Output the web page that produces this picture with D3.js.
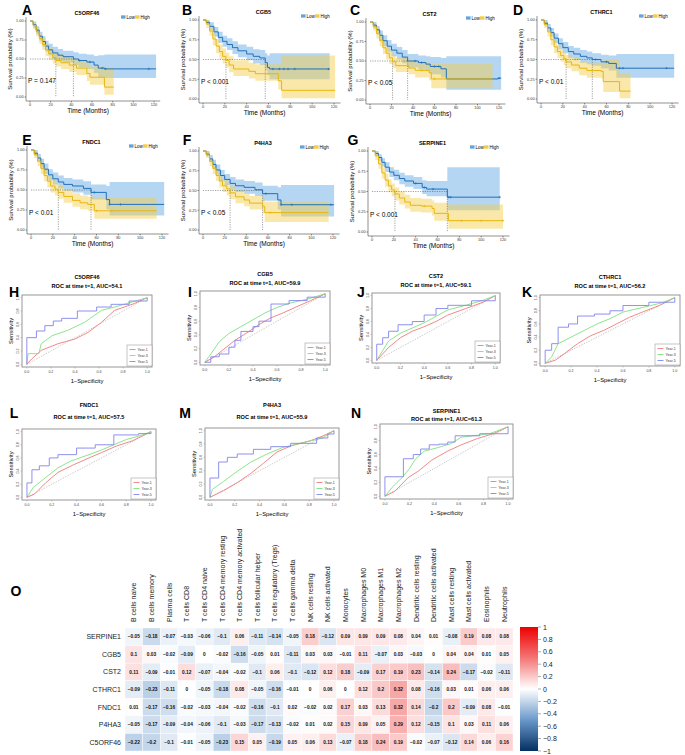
<!DOCTYPE html>
<html>
<head>
<meta charset="utf-8">
<script src="https://d3js.org/d3.v7.min.js"></script>
<style>
  body { margin: 0; background: #fff; }
  svg { display: block; font-family: "Liberation Sans", Arial, sans-serif; }
</style>
</head>
<body>
<svg id="fig" width="685" height="755"></svg>
<script>
// ---------- Kaplan-Meier data: [time, surv, lower, upper] ----------
const kmGenes = ["C5ORF46", "CGB5", "CST2", "CTHRC1", "FNDC1", "P4HA3", "SERPINE1"];
const kmPvals = ["P = 0.147", "P < 0.001", "P < 0.05", "P < 0.01", "P < 0.01", "P < 0.05", "P < 0.001"];
const kmTicksX = [0, 20, 40, 60, 80, 100, 120];
const kmTicksY = [0, 0.25, 0.5, 0.75, 1];

const lowC5ORF46 = [[0,1,1,1],[3,0.95,0.91,0.99],[6,0.88,0.83,0.93],[9,0.8,0.74,0.86],[12,0.73,0.66,0.8],[15,0.67,0.6,0.74],[18,0.62,0.55,0.7],[22,0.58,0.5,0.66],[27,0.55,0.47,0.63],[32,0.53,0.45,0.61],[42,0.5,0.42,0.59],[47,0.48,0.39,0.57],[55,0.46,0.37,0.56],[62,0.42,0.32,0.54],[66,0.38,0.26,0.55],[72,0.37,0.25,0.56],[122,0.37,0.25,0.56]];
const highC5ORF46 = [[0,1,1,1],[3,0.94,0.89,0.99],[6,0.86,0.8,0.92],[9,0.77,0.7,0.84],[12,0.69,0.62,0.77],[15,0.62,0.54,0.7],[18,0.57,0.49,0.65],[22,0.52,0.44,0.61],[25,0.48,0.4,0.57],[30,0.45,0.37,0.54],[38,0.42,0.33,0.51],[45,0.38,0.29,0.48],[55,0.31,0.21,0.43],[58,0.26,0.16,0.4],[72,0.13,0.03,0.38],[81,0.13,0.03,0.38]];
const lowCGB5 = [[0,1,1,1],[3,0.97,0.94,1],[6,0.92,0.87,0.97],[10,0.85,0.79,0.91],[14,0.78,0.71,0.85],[18,0.73,0.66,0.8],[22,0.69,0.62,0.77],[27,0.65,0.57,0.73],[32,0.61,0.53,0.69],[40,0.57,0.49,0.66],[46,0.54,0.45,0.63],[52,0.52,0.43,0.62],[57,0.46,0.36,0.58],[59,0.4,0.3,0.55],[61,0.38,0.25,0.58],[116,0.38,0.25,0.58]];
const highCGB5 = [[0,1,1,1],[3,0.95,0.9,1],[6,0.86,0.8,0.93],[9,0.76,0.68,0.84],[12,0.67,0.58,0.76],[15,0.6,0.51,0.69],[18,0.54,0.45,0.64],[21,0.49,0.4,0.59],[24,0.43,0.34,0.54],[28,0.38,0.29,0.49],[42,0.35,0.26,0.46],[48,0.32,0.23,0.44],[69,0.23,0.12,0.44],[72,0.11,0.01,0.55],[121,0.11,0.01,0.55]];
const lowCST2 = [[0,1,1,1],[3,0.96,0.92,1],[6,0.9,0.85,0.95],[9,0.83,0.77,0.89],[12,0.76,0.69,0.83],[16,0.69,0.62,0.77],[20,0.64,0.56,0.72],[25,0.6,0.52,0.68],[30,0.55,0.47,0.64],[35,0.5,0.42,0.59],[45,0.48,0.39,0.57],[52,0.46,0.37,0.56],[56,0.43,0.33,0.55],[66,0.4,0.29,0.54],[71,0.27,0.13,0.56],[119,0.28,0.13,0.56],[122,0.28,0.13,0.56]];
const highCST2 = [[0,1,1,1],[3,0.94,0.89,0.99],[6,0.85,0.79,0.92],[9,0.76,0.69,0.84],[12,0.67,0.59,0.75],[15,0.6,0.52,0.69],[18,0.54,0.46,0.63],[21,0.49,0.41,0.58],[24,0.44,0.36,0.54],[36,0.41,0.33,0.51],[42,0.38,0.29,0.48],[55,0.35,0.25,0.46],[57,0.27,0.15,0.46],[114,0.27,0.13,0.47]];
const lowCTHRC1 = [[0,1,1,1],[3,0.96,0.93,1],[6,0.9,0.86,0.95],[9,0.84,0.79,0.9],[12,0.77,0.71,0.83],[16,0.7,0.63,0.77],[20,0.65,0.58,0.72],[25,0.6,0.52,0.67],[30,0.57,0.49,0.65],[36,0.54,0.46,0.62],[42,0.52,0.44,0.6],[47,0.5,0.42,0.58],[55,0.47,0.39,0.56],[62,0.45,0.36,0.55],[69,0.39,0.27,0.57],[122,0.39,0.26,0.58]];
const highCTHRC1 = [[0,1,1,1],[3,0.94,0.9,0.99],[6,0.85,0.79,0.91],[9,0.75,0.68,0.82],[12,0.66,0.58,0.74],[15,0.6,0.52,0.68],[18,0.55,0.47,0.63],[21,0.51,0.43,0.59],[23,0.47,0.39,0.56],[28,0.43,0.35,0.52],[35,0.39,0.3,0.48],[42,0.36,0.27,0.46],[55,0.35,0.26,0.45],[57,0.22,0.09,0.5],[72,0.1,0.01,0.32],[82,0.1,0.01,0.32]];
const lowFNDC1 = [[0,1,1,1],[3,0.96,0.93,1],[6,0.9,0.86,0.95],[9,0.83,0.78,0.89],[12,0.76,0.7,0.83],[16,0.69,0.62,0.76],[20,0.64,0.57,0.72],[25,0.6,0.52,0.68],[30,0.57,0.49,0.65],[38,0.55,0.47,0.63],[48,0.52,0.44,0.61],[55,0.47,0.38,0.57],[69,0.38,0.26,0.55],[72,0.32,0.18,0.6],[122,0.32,0.17,0.6]];
const highFNDC1 = [[0,1,1,1],[3,0.94,0.9,0.99],[6,0.86,0.8,0.92],[9,0.77,0.7,0.84],[12,0.68,0.61,0.76],[15,0.61,0.53,0.69],[18,0.55,0.47,0.63],[22,0.51,0.43,0.59],[25,0.47,0.39,0.55],[30,0.42,0.34,0.5],[38,0.37,0.29,0.46],[45,0.34,0.26,0.43],[52,0.32,0.24,0.42],[58,0.24,0.14,0.4],[115,0.24,0.13,0.4]];
const lowP4HA3 = [[0,1,1,1],[3,0.96,0.93,1],[6,0.9,0.86,0.95],[9,0.83,0.78,0.89],[12,0.76,0.7,0.83],[16,0.69,0.62,0.76],[20,0.64,0.57,0.71],[25,0.59,0.51,0.67],[30,0.56,0.48,0.64],[38,0.54,0.46,0.62],[48,0.51,0.43,0.6],[55,0.46,0.37,0.56],[69,0.38,0.26,0.54],[72,0.32,0.17,0.57],[121,0.32,0.17,0.57]];
const highP4HA3 = [[0,1,1,1],[3,0.95,0.91,0.99],[6,0.87,0.81,0.93],[9,0.78,0.71,0.85],[12,0.69,0.62,0.77],[15,0.62,0.54,0.7],[18,0.56,0.48,0.64],[22,0.52,0.44,0.6],[25,0.47,0.39,0.55],[30,0.42,0.34,0.5],[38,0.38,0.3,0.46],[43,0.34,0.26,0.43],[55,0.3,0.21,0.4],[57,0.22,0.1,0.36],[116,0.22,0.09,0.36]];
const lowSERPINE1 = [[0,1,1,1],[3,0.97,0.94,1],[6,0.92,0.88,0.96],[9,0.86,0.81,0.91],[12,0.8,0.74,0.86],[16,0.74,0.68,0.8],[20,0.7,0.64,0.77],[25,0.66,0.59,0.73],[30,0.63,0.56,0.7],[38,0.6,0.53,0.68],[46,0.55,0.47,0.64],[50,0.53,0.44,0.63],[69,0.43,0.27,0.8],[117,0.43,0.27,0.8]];
const highSERPINE1 = [[0,1,1,1],[3,0.94,0.89,0.99],[6,0.84,0.78,0.9],[9,0.73,0.66,0.8],[12,0.64,0.56,0.72],[15,0.57,0.49,0.65],[18,0.52,0.44,0.6],[21,0.47,0.39,0.55],[25,0.42,0.34,0.5],[30,0.37,0.29,0.46],[35,0.33,0.25,0.42],[45,0.32,0.24,0.41],[55,0.29,0.2,0.39],[57,0.23,0.14,0.36],[70,0.14,0.04,0.34],[120,0.14,0.04,0.34]];

// censor marks (months) on each curve
const censLow = [[48,58,70,73,115],[64,70,74,78,84,115],[42,48,60,64,120],[50,60,72,75,115],[58,72,82],[58,72,82,118],[40,48,56,70,72,117]];
const censHigh = [[],[],[48,60],[],[60,74],[62],[48,82,100,120]];

// ---------- ROC data: [1-specificity, sensitivity] ----------
const rocAUC = ["54.1", "59.9", "59.1", "56.2", "57.5", "55.9", "61.3"];
const rocTicks = [0, 0.2, 0.4, 0.6, 0.8, 1];
const rocYears = ["Year-1", "Year-3", "Year-5"];
const rocC5ORF46 = [
  [[0,0],[0.04,0.08],[0.12,0.21],[0.26,0.31],[0.4,0.38],[0.51,0.48],[0.62,0.63],[0.73,0.81],[0.89,0.91],[1,1]],
  [[0,0],[0.01,0.16],[0.1,0.16],[0.12,0.31],[0.21,0.43],[0.34,0.51],[0.48,0.63],[0.62,0.81],[0.73,0.86],[1,1]],
  [[0,0],[0,0.4],[0.08,0.5],[0.15,0.58],[0.22,0.65],[0.29,0.69],[0.42,0.8],[0.58,0.86],[0.7,0.9],[0.85,0.95],[1,1]]];
const rocCGB5 = [
  [[0,0],[0.08,0.08],[0.15,0.18],[0.25,0.32],[0.35,0.43],[0.45,0.55],[0.55,0.65],[0.65,0.72],[0.75,0.8],[0.88,0.9],[1,1]],
  [[0,0],[0.05,0.12],[0.12,0.3],[0.2,0.42],[0.3,0.52],[0.4,0.62],[0.5,0.72],[0.6,0.8],[0.7,0.86],[0.85,0.92],[1,1]],
  [[0,0],[0.05,0.08],[0.12,0.12],[0.2,0.22],[0.25,0.32],[0.3,0.45],[0.4,0.52],[0.45,0.6],[0.55,0.85],[0.7,0.9],[0.85,0.95],[1,1]]];
const rocCST2 = [
  [[0,0],[0.05,0.1],[0.1,0.2],[0.2,0.35],[0.3,0.45],[0.4,0.52],[0.5,0.6],[0.6,0.7],[0.75,0.8],[0.9,0.9],[1,1]],
  [[0,0],[0.05,0.15],[0.1,0.3],[0.2,0.42],[0.3,0.5],[0.4,0.58],[0.5,0.68],[0.6,0.78],[0.75,0.85],[0.9,0.93],[1,1]],
  [[0,0],[0,0.25],[0.05,0.35],[0.1,0.45],[0.18,0.55],[0.3,0.6],[0.4,0.7],[0.5,0.8],[0.6,0.85],[0.8,0.92],[1,1]]];
const rocCTHRC1 = [
  [[0,0],[0.08,0.05],[0.15,0.15],[0.25,0.3],[0.35,0.42],[0.45,0.5],[0.55,0.6],[0.65,0.7],[0.75,0.78],[0.88,0.88],[1,1]],
  [[0,0],[0.05,0.1],[0.1,0.3],[0.2,0.4],[0.3,0.5],[0.4,0.6],[0.5,0.68],[0.6,0.78],[0.75,0.85],[0.9,0.92],[1,1]],
  [[0,0],[0,0.2],[0.05,0.3],[0.1,0.55],[0.18,0.6],[0.25,0.72],[0.38,0.75],[0.5,0.8],[0.6,0.88],[0.8,0.93],[1,1]]];
const rocFNDC1 = [
  [[0,0],[0.06,0.05],[0.15,0.22],[0.25,0.38],[0.38,0.5],[0.5,0.6],[0.6,0.68],[0.72,0.78],[0.85,0.86],[1,1]],
  [[0,0],[0.05,0.15],[0.15,0.3],[0.25,0.45],[0.35,0.55],[0.5,0.65],[0.6,0.72],[0.7,0.8],[0.8,0.88],[0.9,0.93],[1,1]],
  [[0,0],[0,0.22],[0.04,0.42],[0.1,0.48],[0.18,0.6],[0.25,0.65],[0.4,0.75],[0.55,0.8],[0.7,0.95],[0.9,0.97],[1,1]]];
const rocP4HA3 = [
  [[0,0],[0.11,0.1],[0.22,0.22],[0.33,0.36],[0.43,0.51],[0.54,0.68],[0.65,0.77],[0.81,0.85],[0.91,0.92],[1,1]],
  [[0,0],[0.02,0.12],[0.11,0.24],[0.22,0.39],[0.33,0.53],[0.46,0.65],[0.59,0.75],[0.75,0.82],[0.91,0.89],[1,1]],
  [[0,0],[0,0.29],[0.07,0.53],[0.14,0.6],[0.22,0.65],[0.35,0.72],[0.49,0.76],[0.65,0.81],[0.86,0.89],[0.95,0.95],[1,1]]];
const rocSERPINE1 = [
  [[0,0],[0.08,0.07],[0.19,0.27],[0.27,0.36],[0.38,0.52],[0.51,0.65],[0.62,0.74],[0.75,0.83],[0.88,0.9],[1,1]],
  [[0,0],[0.06,0.13],[0.14,0.27],[0.2,0.4],[0.25,0.54],[0.32,0.65],[0.43,0.7],[0.54,0.76],[0.62,0.85],[0.85,0.9],[1,1]],
  [[0,0],[0,0.28],[0.15,0.54],[0.23,0.6],[0.29,0.68],[0.36,0.74],[0.44,0.75],[0.51,0.78],[0.57,0.87],[0.77,0.9],[1,0.94],[1,1]]];

// ---------- correlation heatmap data ----------
const cellTypes = ["B cells naive","B cells memory","Plasma cells","T cells CD8","T cells CD4 naive",
  "T cells CD4 memory resting","T cells CD4 memory activated","T cells follicular helper",
  "T cells regulatory (Tregs)","T cells gamma delta","NK cells resting","NK cells activated","Monocytes",
  "Macrophages M0","Macrophages M1","Macrophages M2","Dendritic cells resting","Dendritic cells activated",
  "Mast cells resting","Mast cells activated","Eosinophils","Neutrophils"];
const heatGenes = ["SERPINE1","CGB5","CST2","CTHRC1","FNDC1","P4HA3","C5ORF46"];
const corSERPINE1 = [-0.05,-0.18,-0.07,-0.03,-0.06,-0.1,0.06,-0.11,-0.14,-0.05,0.18,-0.12,0.09,0.09,0.09,0.08,0.04,0.01,-0.08,0.19,0.08,0.08];
const corCGB5 = [0.1,0.03,-0.02,-0.09,0,-0.02,-0.16,-0.05,0.01,-0.11,0.03,0.03,-0.01,0.11,-0.07,0.03,-0.03,0,0.04,0.04,0.01,0.05];
const corCST2 = [0.11,-0.09,-0.01,0.12,-0.07,-0.04,-0.02,-0.1,0.06,-0.1,-0.12,0.12,0.18,-0.09,0.17,0.19,0.23,-0.14,0.24,-0.17,-0.02,-0.11];
const corCTHRC1 = [-0.09,-0.23,-0.11,0,-0.05,-0.18,0.08,-0.05,-0.16,-0.01,0,0.06,0,0.12,0.2,0.32,0.08,-0.16,0.03,0.01,0.06,0.06];
const corFNDC1 = [0.01,-0.17,-0.16,-0.02,-0.03,-0.04,-0.02,-0.16,-0.1,0.02,-0.02,0.02,0.17,0.03,0.13,0.32,0.14,-0.2,0.2,-0.09,0.08,-0.01];
const corP4HA3 = [-0.05,-0.17,-0.09,-0.04,-0.06,-0.1,-0.03,-0.17,-0.13,-0.02,0.01,0.02,0.15,0.09,0.05,0.29,0.12,-0.15,0.1,0.03,0.11,0.06];
const corC5ORF46 = [-0.22,-0.2,-0.1,-0.01,-0.05,-0.23,0.15,0.05,-0.19,0.05,0.06,0.13,-0.07,0.18,0.24,0.19,-0.02,-0.07,-0.12,0.14,0.06,0.16];
const colorbarTicks = [1,0.8,0.6,0.4,0.2,0,-0.2,-0.4,-0.6,-0.8,-1];

// ---------- drawing ----------
const svg = d3.select("#fig");
const minus = (v) => (v < 0 ? "\u2212" + Math.abs(v) : String(v));

const LOW_COL = "#2370B8", HIGH_COL = "#E6B70E";

// KM panel frames: x of month 0 and 120, y of surv 1 and 0
const kmFrames = [
  { L: "A", lx: 27, ly: 15, x0: 30, x1: 154, yt: 21, yb: 97 },
  { L: "B", lx: 187, ly: 15, x0: 203, x1: 334, yt: 20, yb: 99 },
  { L: "C", lx: 355, ly: 15, x0: 370, x1: 499, yt: 22, yb: 100 },
  { L: "D", lx: 518, ly: 15, x0: 541, x1: 672, yt: 20, yb: 99 },
  { L: "E", lx: 27, ly: 145, x0: 31, x1: 162, yt: 150, yb: 230 },
  { L: "F", lx: 187, ly: 145, x0: 203, x1: 333, yt: 151, yb: 230 },
  { L: "G", lx: 353, ly: 145, x0: 372, x1: 503, yt: 151, yb: 232 },
];
const kmLow = [lowC5ORF46, lowCGB5, lowCST2, lowCTHRC1, lowFNDC1, lowP4HA3, lowSERPINE1];
const kmHigh = [highC5ORF46, highCGB5, highCST2, highCTHRC1, highFNDC1, highP4HA3, highSERPINE1];

function survAt(curve, t) {
  let s = 1;
  for (const d of curve) if (d[0] <= t) s = d[1];
  return s;
}
function median(curve) {
  const d = curve.find((p) => p[1] <= 0.5);
  return d ? d[0] : null;
}

kmFrames.forEach((f, i) => {
  const g = svg.append("g");
  const x = d3.scaleLinear().domain([0, 120]).range([f.x0, f.x1]);
  const y = d3.scaleLinear().domain([0, 1]).range([f.yb, f.yt]);
  const area = d3.area().x((d) => x(d[0])).y0((d) => y(d[2])).y1((d) => y(d[3])).curve(d3.curveStepAfter);
  const line = d3.line().x((d) => x(d[0])).y((d) => y(d[1])).curve(d3.curveStepAfter);

  g.append("path").attr("d", area(kmLow[i])).attr("fill", "#6AAEE6").attr("opacity", 0.5);
  g.append("path").attr("d", area(kmHigh[i])).attr("fill", "#F3CD45").attr("opacity", 0.45);

  // median guide lines
  const m = [median(kmLow[i]), median(kmHigh[i])].filter((v) => v != null);
  const guide = g.append("g").attr("stroke", "#444").attr("stroke-width", 0.5).attr("stroke-dasharray", "1.2,1.2").attr("fill", "none");
  guide.append("line").attr("x1", x(0)).attr("x2", x(d3.max(m))).attr("y1", y(0.5)).attr("y2", y(0.5));
  m.forEach((v) => guide.append("line").attr("x1", x(v)).attr("x2", x(v)).attr("y1", y(0.5)).attr("y2", y(0)));

  g.append("path").attr("d", line(kmLow[i])).attr("fill", "none").attr("stroke", LOW_COL).attr("stroke-width", 1);
  g.append("path").attr("d", line(kmHigh[i])).attr("fill", "none").attr("stroke", HIGH_COL).attr("stroke-width", 1);

  [[censLow[i], kmLow[i], LOW_COL], [censHigh[i], kmHigh[i], HIGH_COL]].forEach(([ts, c, col]) => {
    ts.forEach((t) => {
      const cx = x(t), cy = y(survAt(c, t));
      g.append("path").attr("d", `M${cx - 1.2},${cy}H${cx + 1.2}M${cx},${cy - 1.2}V${cy + 1.2}`)
        .attr("stroke", col).attr("stroke-width", 0.6);
    });
  });

  // axes
  const axX = f.yb + 4, axY = f.x0 - 4;
  g.append("line").attr("x1", axY).attr("x2", x(126)).attr("y1", axX).attr("y2", axX).attr("stroke", "#222").attr("stroke-width", 0.5);
  g.append("line").attr("x1", axY).attr("x2", axY).attr("y1", y(-0.05)).attr("y2", y(1.05)).attr("stroke", "#222").attr("stroke-width", 0.5);
  kmTicksX.forEach((t) => {
    g.append("line").attr("x1", x(t)).attr("x2", x(t)).attr("y1", axX).attr("y2", axX + 1.5).attr("stroke", "#222").attr("stroke-width", 0.5);
    g.append("text").attr("x", x(t)).attr("y", axX + 4.8).attr("text-anchor", "middle").attr("font-size", 3.8).attr("fill", "#333").text(t);
  });
  kmTicksY.forEach((t) => {
    g.append("line").attr("x1", axY - 1.5).attr("x2", axY).attr("y1", y(t)).attr("y2", y(t)).attr("stroke", "#222").attr("stroke-width", 0.5);
    g.append("text").attr("x", axY - 2.5).attr("y", y(t) + 1.4).attr("text-anchor", "end").attr("font-size", 3.8).attr("fill", "#333").text(d3.format(".2f")(t));
  });
  const cx = (f.x0 + f.x1) / 2;
  g.append("text").attr("x", cx - 4).attr("y", f.yb + 15.5).attr("text-anchor", "middle").attr("font-size", 6.5).text("Time (Months)");
  g.append("text").attr("transform", `translate(${f.x0 - 18},${(f.yt + f.yb) / 2}) rotate(-90)`)
    .attr("text-anchor", "middle").attr("font-size", 6).text("Survival probability (%)");
  g.append("text").attr("x", cx - 5).attr("y", f.yt - 6).attr("text-anchor", "middle").attr("font-size", 5.5).attr("font-weight", "bold").text(kmGenes[i]);
  g.append("text").attr("x", f.x0 - 2).attr("y", y(0.19)).attr("font-size", 6.5).text(kmPvals[i]);

  // legend
  const ly = f.yt - 4;
  [["Low", LOW_COL, "#6AAEE6", f.x1 - 33], ["High", HIGH_COL, "#F3CD45", f.x1 - 19]].forEach(([lab, lc, fc, lx]) => {
    g.append("rect").attr("x", lx).attr("y", ly - 2).attr("width", 4.5).attr("height", 4).attr("fill", fc).attr("opacity", 0.7);
    g.append("line").attr("x1", lx).attr("x2", lx + 4.5).attr("y1", ly).attr("y2", ly).attr("stroke", lc).attr("stroke-width", 0.8);
    g.append("text").attr("x", lx + 5.5).attr("y", ly + 1.6).attr("font-size", 4.5).text(lab);
  });

  svg.append("text").attr("x", f.lx).attr("y", f.ly).attr("text-anchor", "middle").attr("font-size", 14).attr("font-weight", "bold").text(f.L);
});

// ---------- ROC panels ----------
const rocFrames = [
  { L: "H", lx: 14, ly: 297, b: [22, 295, 152, 367], t1: 277, t2: 286 },
  { L: "I", lx: 190, ly: 297, b: [200, 291, 330, 365], t1: 274, t2: 283 },
  { L: "J", lx: 361, ly: 297, b: [372, 293, 500, 363], t1: 276, t2: 285 },
  { L: "K", lx: 527, ly: 297, b: [540, 295, 680, 366], t1: 277, t2: 286 },
  { L: "L", lx: 14, ly: 418, b: [22, 429, 156, 500], t1: 405, t2: 417 },
  { L: "M", lx: 185, ly: 418, b: [205, 428, 339, 500], t1: 405, t2: 417 },
  { L: "N", lx: 356, ly: 418, b: [380, 424, 513, 499], t1: 411, t2: 419 },
];
const rocData = [rocC5ORF46, rocCGB5, rocCST2, rocCTHRC1, rocFNDC1, rocP4HA3, rocSERPINE1];
const rocCols = ["#F07A7A", "#7EE27E", "#8383EE"];

rocFrames.forEach((f, i) => {
  const g = svg.append("g");
  const [bx0, by0, bx1, by1] = f.b;
  const x = d3.scaleLinear().domain([-0.04, 1.04]).range([bx0, bx1]);
  const y = d3.scaleLinear().domain([-0.04, 1.04]).range([by1, by0]);

  g.append("line").attr("x1", x(0)).attr("y1", y(0)).attr("x2", x(1)).attr("y2", y(1))
    .attr("stroke", "#999").attr("stroke-width", 0.5).attr("stroke-dasharray", "1.5,1.2");
  rocData[i].forEach((pts, k) => {
    const ln = d3.line().x((d) => x(d[0])).y((d) => y(d[1])).curve(k === 2 ? d3.curveStepAfter : d3.curveLinear);
    g.append("path").attr("d", ln(pts)).attr("fill", "none").attr("stroke", rocCols[k]).attr("stroke-width", 0.9);
  });
  g.append("rect").attr("x", bx0).attr("y", by0).attr("width", bx1 - bx0).attr("height", by1 - by0)
    .attr("fill", "none").attr("stroke", "#8c8c8c").attr("stroke-width", 0.9);

  rocTicks.forEach((t) => {
    g.append("line").attr("x1", x(t)).attr("x2", x(t)).attr("y1", by1).attr("y2", by1 + 1.5).attr("stroke", "#888").attr("stroke-width", 0.4);
    g.append("text").attr("x", x(t)).attr("y", by1 + 6).attr("text-anchor", "middle").attr("font-size", 3.6).attr("fill", "#444").text(t.toFixed(1));
    g.append("line").attr("x1", bx0 - 1.5).attr("x2", bx0).attr("y1", y(t)).attr("y2", y(t)).attr("stroke", "#888").attr("stroke-width", 0.4);
    g.append("text").attr("transform", `translate(${bx0 - 3},${y(t)}) rotate(-90)`).attr("text-anchor", "middle")
      .attr("font-size", 3.6).attr("fill", "#444").text(t.toFixed(1));
  });
  const cx = (bx0 + bx1) / 2;
  g.append("text").attr("x", cx).attr("y", by1 + 16).attr("text-anchor", "middle").attr("font-size", 5.8).text("1\u2212Specificity");
  g.append("text").attr("transform", `translate(${bx0 - 9},${(by0 + by1) / 2}) rotate(-90)`).attr("text-anchor", "middle")
    .attr("font-size", 5.8).text("Sensitivity");
  g.append("text").attr("x", cx).attr("y", f.t1 + 2).attr("text-anchor", "middle").attr("font-size", 5.6).attr("font-weight", "bold").text(kmGenes[i]);
  g.append("text").attr("x", cx).attr("y", f.t2 + 2).attr("text-anchor", "middle").attr("font-size", 5.6).attr("font-weight", "bold")
    .text(`ROC at time t=1, AUC=${rocAUC[i]}`);

  // legend
  const lw = 25, lh = 21, lx = bx1 - lw, ly = by1 - lh - 1;
  g.append("rect").attr("x", lx).attr("y", ly).attr("width", lw).attr("height", lh).attr("fill", "#fff").attr("stroke", "#8c8c8c").attr("stroke-width", 0.5);
  rocYears.forEach((yr, k) => {
    const yy = ly + 4.5 + k * 6;
    g.append("line").attr("x1", lx + 2.5).attr("x2", lx + 8.5).attr("y1", yy).attr("y2", yy).attr("stroke", rocCols[k]).attr("stroke-width", 0.9);
    g.append("text").attr("x", lx + 10.5).attr("y", yy + 1.2).attr("font-size", 3.5).attr("fill", "#333").text(yr);
  });

  svg.append("text").attr("x", f.lx).attr("y", f.ly).attr("text-anchor", "middle").attr("font-size", 14).attr("font-weight", "bold").text(f.L);
});

// ---------- heatmap ----------
const heatRows = [corSERPINE1, corCGB5, corCST2, corCTHRC1, corFNDC1, corP4HA3, corC5ORF46];
const hx = d3.scaleBand().domain(cellTypes).range([125, 513]);
const hy = d3.scaleBand().domain(heatGenes).range([628, 751]);
const color = d3.scaleLinear().domain([-1, -0.5, 0, 0.5, 1])
  .range(["#053061", "#6A98CA", "#FFFFFF", "#F47676", "#EE0000"]).clamp(true);

const hg = svg.append("g");
heatGenes.forEach((gene, r) => {
  heatRows[r].forEach((v, c) => {
    const ct = cellTypes[c];
    hg.append("rect").attr("x", hx(ct)).attr("y", hy(gene)).attr("width", hx.bandwidth()).attr("height", hy.bandwidth())
      .attr("fill", color(v)).attr("stroke", "#fff").attr("stroke-width", 0.4);
    hg.append("text").attr("x", hx(ct) + hx.bandwidth() / 2).attr("y", hy(gene) + hy.bandwidth() / 2 + 1.7)
      .attr("text-anchor", "middle").attr("font-size", 4.8).attr("font-weight", "bold").attr("fill", "#111").text(minus(v));
  });
  hg.append("text").attr("x", 121).attr("y", hy(gene) + hy.bandwidth() / 2 + 2.5).attr("text-anchor", "end")
    .attr("font-size", 7).attr("fill", "#222").text(gene);
});
cellTypes.forEach((ct) => {
  hg.append("text").attr("transform", `translate(${hx(ct) + hx.bandwidth() / 2 + 2.5},622) rotate(-90)`)
    .attr("font-size", 7).attr("fill", "#222").text(ct);
});

// colorbar
const cb = d3.scaleLinear().domain([-1, 1]).range([751, 627]);
const defs = svg.append("defs");
const grad = defs.append("linearGradient").attr("id", "cbar").attr("x1", 0).attr("x2", 0).attr("y1", 1).attr("y2", 0);
d3.range(-1, 1.001, 0.1).forEach((v) => grad.append("stop").attr("offset", (v + 1) / 2).attr("stop-color", color(v)));
svg.append("rect").attr("x", 520).attr("y", 627).attr("width", 18).attr("height", 124).attr("fill", "url(#cbar)");
colorbarTicks.forEach((t) => {
  svg.append("line").attr("x1", 538).attr("x2", 541).attr("y1", cb(t)).attr("y2", cb(t)).attr("stroke", "#555").attr("stroke-width", 0.5);
  svg.append("text").attr("x", 543).attr("y", cb(t) + 2.5).attr("font-size", 7).attr("fill", "#222").text(minus(t));
});

svg.append("text").attr("x", 16).attr("y", 596).attr("text-anchor", "middle").attr("font-size", 14).attr("font-weight", "bold").text("O");
</script>
</body>
</html>
